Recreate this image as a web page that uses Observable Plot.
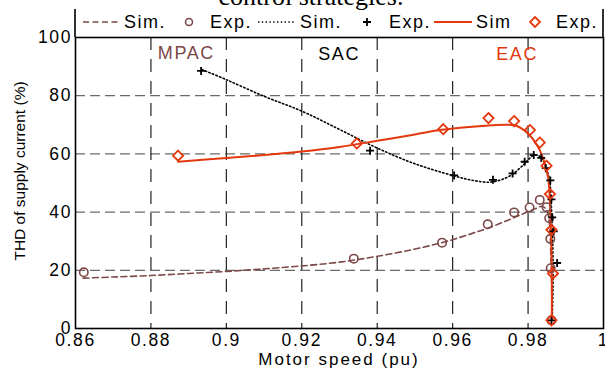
<!DOCTYPE html>
<html>
<head>
<meta charset="utf-8">
<script src="https://cdn.jsdelivr.net/npm/d3@7"></script>
<script src="https://cdn.jsdelivr.net/npm/@observablehq/plot@0.6"></script>
<style>
  html, body { margin: 0; padding: 0; background: white; }
  #wrap { position: relative; width: 605px; height: 372px; overflow: hidden; }
  #wrap svg { position: absolute; left: 0; top: 0; }
</style>
</head>
<body>
<div id="wrap"></div>
<script>
// ---- data ----
const xTicks = [0.86, 0.88, 0.9, 0.92, 0.94, 0.96, 0.98, 1];
const yTicks = [0, 20, 40, 60, 80, 100];
const xGrid = [0.88, 0.9, 0.92, 0.94, 0.96, 0.98];
const yGrid = [20, 40, 60, 80];

// MPAC (brown dashed sim, circles exp)
const mpacSimSpeed = [0.862, 0.87, 0.88, 0.89, 0.90, 0.91, 0.92, 0.93, 0.94, 0.95, 0.958, 0.965, 0.97, 0.975, 0.979, 0.982, 0.9838, 0.985, 0.9856, 0.9859, 0.9861, 0.9863, 0.9864];
const mpacSimTHD   = [17.3, 17.7, 18.2, 18.9, 19.6, 20.5, 21.5, 22.8, 24.8, 27.3, 29.8, 32.6, 34.8, 37.4, 39.6, 41.2, 42.0, 40.5, 37.0, 31.0, 22.0, 12.0, 3.0];
const mpacExpSpeed = [0.8622, 0.9338, 0.9572, 0.9693, 0.9763, 0.9804, 0.9831, 0.9849, 0.9856, 0.9859, 0.986, 0.9862];
const mpacExpTHD   = [19.3, 24.0, 29.5, 35.8, 39.9, 41.6, 44.2, 41.7, 37.9, 30.8, 20.7, 2.8];

// SAC (black dotted sim, crosses exp)
const sacSimSpeed = [0.8935, 0.90, 0.91, 0.92, 0.93, 0.94, 0.95, 0.96, 0.965, 0.97, 0.975, 0.979, 0.9815, 0.9835, 0.9848, 0.9857, 0.9861, 0.9864, 0.9866, 0.9866, 0.9864];
const sacSimTHD   = [89.0, 85.5, 79.8, 74.7, 68.4, 62.0, 56.6, 52.6, 51.0, 50.3, 52.3, 56.5, 59.5, 58.8, 55.0, 51.0, 44.0, 35.0, 25.0, 14.0, 3.0];
const sacExpSpeed = [0.8933, 0.9381, 0.9604, 0.9707, 0.9759, 0.9791, 0.9815, 0.9835, 0.9847, 0.9859, 0.9862, 0.9864, 0.9868, 0.9877, 0.9862];
const sacExpTHD   = [88.5, 61.1, 52.6, 51.1, 53.3, 57.3, 59.6, 58.6, 55.1, 50.9, 44.4, 38.2, 33.4, 22.5, 2.8];

// EAC (red solid sim, diamonds exp)
const eacSimSpeed = [0.8872, 0.90, 0.91, 0.92, 0.93, 0.94, 0.95, 0.957, 0.962, 0.967, 0.9743, 0.977, 0.9796, 0.9822, 0.984, 0.9853, 0.9857, 0.986, 0.9862, 0.9863, 0.9863];
const eacSimTHD   = [57.3, 58.6, 59.6, 60.8, 62.4, 64.5, 66.7, 68.3, 69.0, 69.5, 70.0, 69.6, 67.4, 63.4, 58.5, 52.0, 46.0, 36.0, 27.0, 18.0, 2.8];
const eacExpSpeed = [0.8872, 0.9346, 0.9575, 0.9695, 0.9763, 0.9805, 0.9831, 0.9849, 0.9858, 0.9862, 0.9866, 0.9862];
const eacExpTHD   = [59.4, 63.6, 68.5, 72.3, 71.3, 68.2, 63.9, 55.9, 46.2, 33.9, 18.9, 2.8];

const regionNames = ["MPAC", "SAC", "EAC"];
const regionSpeed = [0.8894, 0.9299, 0.9771];
const regionTHD   = [94.6, 94.2, 94.2];

// ---- styles ----
const BROWN = "#7c4848";
const RED = "#e4380f";
const BLACK = "#000";
const regionColors = [BROWN, BLACK, RED];
const FONT = "'Liberation Sans', Arial, Helvetica, sans-serif";

// thin line-drawn plus symbol
const plusSymbol = {
  draw(ctx, size) {
    const r = Math.sqrt(size / Math.PI);
    ctx.moveTo(-r, 0); ctx.lineTo(r, 0);
    ctx.moveTo(0, -r); ctx.lineTo(0, r);
  }
};

const zip = (xs, ys) => xs.map((x, i) => ({x, y: ys[i]}));
const mpacSim = zip(mpacSimSpeed, mpacSimTHD);
const mpacExp = zip(mpacExpSpeed, mpacExpTHD);
const sacSim = zip(sacSimSpeed, sacSimTHD);
const sacExp = zip(sacExpSpeed, sacExpTHD);
const eacSim = zip(eacSimSpeed, eacSimTHD);
const eacExp = zip(eacExpSpeed, eacExpTHD);
const regions = regionNames.map((n, i) => ({n, x: regionSpeed[i], y: regionTHD[i], c: regionColors[i]}));

const W = 605, H = 372;
const mL = 75, mR = 2, mT = 37, mB = 44;

const chart = Plot.plot({
  width: W,
  height: H,
  marginLeft: mL,
  marginRight: mR,
  marginTop: mT,
  marginBottom: mB,
  style: {fontFamily: FONT, fontSize: "17.5px", color: "black", background: "white", overflow: "visible"},
  x: {domain: [0.86, 1], ticks: xTicks, tickFormat: d => String(+d.toFixed(2)), tickSize: 0, tickPadding: 5, label: null},
  y: {domain: [0, 100], ticks: yTicks, tickSize: 0, tickPadding: 3.5, label: null},
  marks: [
    Plot.ruleY(yGrid, {stroke: "#6a6a6a", strokeWidth: 1.3, strokeDasharray: "10,5"}),
    Plot.ruleX(xGrid, {stroke: "#222", strokeWidth: 1.2, strokeDasharray: "13,9"}),
    Plot.text(regions, {x: "x", y: "y", text: "n", fill: "c", fontSize: 18}),
    Plot.line(mpacSim, {x: "x", y: "y", stroke: BROWN, strokeWidth: 1.6, strokeDasharray: "6,3.5", curve: "catmull-rom"}),
    Plot.line(sacSim, {x: "x", y: "y", stroke: BLACK, strokeWidth: 1.6, strokeDasharray: "1.4,2.4", curve: "catmull-rom"}),
    Plot.line(eacSim, {x: "x", y: "y", stroke: RED, strokeWidth: 2, curve: "catmull-rom"}),
    Plot.dot(mpacExp, {x: "x", y: "y", r: 4.2, stroke: BROWN, strokeWidth: 1.6, fill: "none"}),
    Plot.dot(sacExp, {x: "x", y: "y", r: 4, symbol: plusSymbol, stroke: BLACK, strokeWidth: 1.8}),
    Plot.dot(eacExp, {x: "x", y: "y", r: 4.6, symbol: "diamond2", stroke: RED, strokeWidth: 1.8, fill: "none"}),
    Plot.frame({stroke: "black", strokeWidth: 1.6})
  ]
});
chart.style.letterSpacing = "1.6px";
const wrap = document.getElementById("wrap");
wrap.appendChild(chart);

// ---- overlay: caption, legend, axis labels ----
const ov = d3.select(wrap).append("svg")
  .attr("width", W).attr("height", H)
  .style("font-family", FONT);

// caption (cropped at top, as in the reference)
ov.append("text").attr("x", 311).attr("y", 5)
  .attr("text-anchor", "middle")
  .style("font-family", "'Liberation Serif', 'Times New Roman', serif")
  .style("font-size", "26px")
  .text("control strategies.");

// legend box
ov.append("path")
  .attr("d", `M${mL},9 V${mT} M${W - mR},9 V${mT}`)
  .attr("stroke", "black").attr("stroke-width", 1.6).attr("fill", "none");

const ly = 22;
const lg = ov.append("g").style("font-size", "18px").style("letter-spacing", "1.5px");
lg.append("line").attr("x1", 83).attr("x2", 121).attr("y1", ly).attr("y2", ly)
  .attr("stroke", BROWN).attr("stroke-width", 1.6).attr("stroke-dasharray", "6,3.5");
lg.append("text").attr("x", 124).attr("y", ly).attr("dy", "0.36em").text("Sim.");
lg.append("circle").attr("cx", 189).attr("cy", ly).attr("r", 3.5)
  .attr("stroke", BROWN).attr("stroke-width", 1.6).attr("fill", "none");
lg.append("text").attr("x", 210).attr("y", ly).attr("dy", "0.36em").text("Exp.");
lg.append("line").attr("x1", 258).attr("x2", 296).attr("y1", ly).attr("y2", ly)
  .attr("stroke", BLACK).attr("stroke-width", 1.6).attr("stroke-dasharray", "1.4,2.4");
lg.append("text").attr("x", 300).attr("y", ly).attr("dy", "0.36em").text("Sim.");
lg.append("path").attr("d", `M363,${ly} h8 M367,${ly - 4} v8`)
  .attr("stroke", BLACK).attr("stroke-width", 1.8);
lg.append("text").attr("x", 389).attr("y", ly).attr("dy", "0.36em").text("Exp.");
lg.append("line").attr("x1", 434).attr("x2", 472).attr("y1", ly).attr("y2", ly)
  .attr("stroke", RED).attr("stroke-width", 2);
lg.append("text").attr("x", 476).attr("y", ly).attr("dy", "0.36em").text("Sim");
lg.append("path").attr("d", `M535,${ly - 5} L540,${ly} L535,${ly + 5} L530,${ly} Z`)
  .attr("stroke", RED).attr("stroke-width", 1.8).attr("fill", "none");
lg.append("text").attr("x", 556).attr("y", ly).attr("dy", "0.36em").text("Exp.");

// axis titles
ov.append("text").attr("x", 339).attr("y", 364.5)
  .attr("text-anchor", "middle").style("font-size", "17px").style("letter-spacing", "2px")
  .text("Motor speed (pu)");
ov.append("text").attr("transform", "translate(19,171) rotate(-90)").attr("dy", "0.36em")
  .attr("text-anchor", "middle").style("font-size", "15.5px")
  .text("THD of supply current (%)");
</script>
</body>
</html>
